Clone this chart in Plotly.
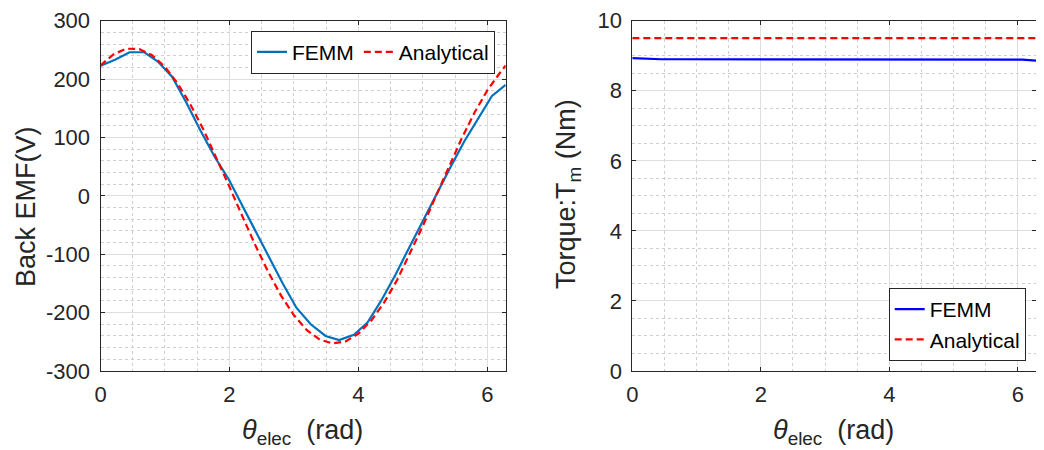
import plotly.graph_objects as go

# ---------------- data ----------------
theta_femm = [0.000, 0.225, 0.450, 0.680, 0.890, 1.110, 1.330, 1.550, 1.770, 1.990,
              2.200, 2.410, 2.620, 2.830, 3.040, 3.260, 3.490, 3.700, 3.930, 4.140,
              4.350, 4.570, 4.780, 5.000, 5.210, 5.430, 5.640, 5.860, 6.070, 6.283]
emf_femm = [223, 233, 246, 246, 230, 204, 160, 112, 67, 28,
            -17, -62, -107, -151, -192, -220, -240, -247, -238, -217,
            -180, -136, -90, -43, 4, 50, 93, 134, 171, 190]

theta_analytical = [0.0, 0.2, 0.4, 0.6, 0.8, 1.0, 1.2, 1.4, 1.6, 1.8, 2.0,
                    2.2, 2.4, 2.6, 2.8, 3.0, 3.2, 3.4, 3.6, 3.8, 4.0,
                    4.2, 4.4, 4.6, 4.8, 5.0, 5.2, 5.4, 5.6, 5.8, 6.0, 6.2, 6.283]
emf_analytical = [223.2, 242.4, 252.0, 251.5, 240.9, 220.8, 191.9, 155.3, 112.5, 65.2, 15.4,
                  -35.2, -84.2, -130.1, -170.8, -204.5, -230.1, -246.3, -252.8, -249.3, -236.0,
                  -213.4, -182.4, -144.1, -99.1, -51.2, -0.6, 49.8, 98.1, 142.8, 181.0, 211.7, 223.2]

torque_femm = [8.93, 8.91, 8.90, 8.90, 8.90, 8.90, 8.90, 8.89, 8.89, 8.89,
               8.90, 8.90, 8.90, 8.89, 8.89, 8.89, 8.90, 8.90, 8.90, 8.89,
               8.89, 8.89, 8.90, 8.90, 8.90, 8.89, 8.89, 8.89, 8.89, 8.86]
theta_torque_analytical = [0.0, 6.283]
torque_analytical = [9.5, 9.5]

emf_yticks = [-300, -200, -100, 0, 100, 200, 300]
emf_yticklabels = ["-300", "-200", "-100", "0", "100", "200", "300"]
torque_yticks = [0, 2, 4, 6, 8, 10]
torque_yticklabels = ["0", "2", "4", "6", "8", "10"]
x_ticks = [0, 2, 4, 6]
x_ticklabels = ["0", "2", "4", "6"]

# ---------------- style ----------------
W, H = 1044, 450
OFF = 8  # page body margin offset
FONT = "Liberation Sans, Arial, Helvetica, sans-serif"
TXT = "#262626"
GRID = "#DEDEDE"
MINOR = "#CFCFCF"


def px(x):
    return (x - OFF) / W


def py(y):
    return (H - (y - OFF)) / H


fig = go.Figure()

fig.add_trace(go.Scatter(x=theta_femm, y=emf_femm, mode="lines", name="FEMM",
                         line=dict(color="#0072BD", width=2.2),
                         xaxis="x", yaxis="y", legend="legend"))
fig.add_trace(go.Scatter(x=theta_analytical, y=emf_analytical, mode="lines", name="Analytical",
                         line=dict(color="#FF0000", width=2.2, dash="7px,4px"),
                         xaxis="x", yaxis="y", legend="legend"))
fig.add_trace(go.Scatter(x=theta_femm, y=torque_femm, mode="lines", name="FEMM",
                         line=dict(color="#0000FF", width=2.2),
                         xaxis="x2", yaxis="y2", legend="legend2"))
fig.add_trace(go.Scatter(x=theta_torque_analytical, y=torque_analytical, mode="lines", name="Analytical",
                         line=dict(color="#FF0000", width=2.2, dash="7px,4px"),
                         xaxis="x2", yaxis="y2", legend="legend2"))


def axis_common(domain, anchor, rng, tickvals, ticktext, minor_dtick, standoff):
    return dict(
        domain=domain, anchor=anchor, range=rng, tickvals=tickvals, ticktext=ticktext,
        automargin=False, ticklabelstandoff=standoff,
        showline=True, linecolor=TXT, linewidth=1, mirror="ticks",
        ticks="inside", ticklen=4, tickcolor=TXT, tickwidth=1,
        showgrid=True, gridcolor=GRID, gridwidth=1, zeroline=False,
        tickfont=dict(family=FONT, size=22, color=TXT),
        minor=dict(dtick=minor_dtick, tick0=0, showgrid=True, gridcolor=MINOR,
                   griddash="dot", gridwidth=1, ticks=""),
    )

xd1 = [px(100.5), px(505.7)]
xd2 = [px(632.3), px(1036.0)]
yd = [py(371.0), py(20.7)]

fig.update_layout(
    width=W, height=H,
    margin=dict(l=0, r=0, t=0, b=0, pad=0),
    paper_bgcolor="white", plot_bgcolor="white",
    font=dict(family=FONT, color=TXT),
    xaxis=axis_common(xd1, "y", [0, 6.2832], x_ticks, x_ticklabels, 0.5, 4),
    yaxis=axis_common(yd, "x", [-300, 300], emf_yticks, emf_yticklabels, 20, 5),
    xaxis2=axis_common(xd2, "y2", [0, 6.2832], x_ticks, x_ticklabels, 0.5, 4),
    yaxis2=axis_common(yd, "x2", [0, 10], torque_yticks, torque_yticklabels, 0.5, 5),
    legend=dict(orientation="h", x=px(495), y=py(30.7), xanchor="right", yanchor="top",
                bgcolor="white", bordercolor=TXT, borderwidth=1,
                font=dict(family=FONT, size=21, color="#000000"),
                itemwidth=30, tracegroupgap=0),
    legend2=dict(orientation="v", x=px(1025.7), y=py(361), xanchor="right", yanchor="bottom",
                 bgcolor="white", bordercolor=TXT, borderwidth=1,
                 font=dict(family=FONT, size=21, color="#000000"),
                 itemwidth=30, tracegroupgap=0),
    showlegend=True,
)

NB = "\u00a0"
xtitle = "<i>θ</i><sub>elec</sub>" + NB + NB + "(rad)"
fig.add_annotation(text="Back EMF(V)", xref="paper", yref="paper",
                   x=px(26), y=py(207), xanchor="center", yanchor="middle",
                   textangle=-90, showarrow=False,
                   font=dict(family=FONT, size=27, color=TXT))
fig.add_annotation(text="Torque:T<sub>m</sub>" + NB + "(Nm)", xref="paper", yref="paper",
                   x=px(568), y=py(194), xanchor="center", yanchor="middle",
                   textangle=-90, showarrow=False,
                   font=dict(family=FONT, size=27, color=TXT))
fig.add_annotation(text=xtitle, xref="paper", yref="paper",
                   x=px(302.5), y=py(413), xanchor="center", yanchor="top",
                   showarrow=False, font=dict(family=FONT, size=27, color=TXT))
fig.add_annotation(text=xtitle, xref="paper", yref="paper",
                   x=px(833), y=py(413), xanchor="center", yanchor="top",
                   showarrow=False, font=dict(family=FONT, size=27, color=TXT))

fig.write_html("out.html")
